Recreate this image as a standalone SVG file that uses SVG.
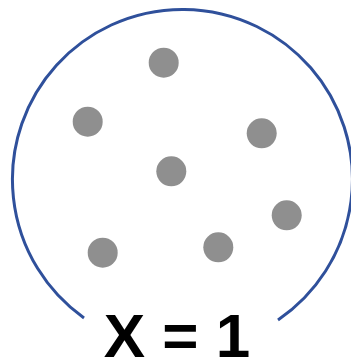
<svg xmlns="http://www.w3.org/2000/svg" width="351" height="361" viewBox="0 0 351 361">
<style>
.dot{fill:#8f8f8f}
.ring{fill:none;stroke:#2f509b;stroke-width:3}
.lbl{font-family:"Liberation Sans",Arial,sans-serif;font-weight:bold;font-size:62px;fill:#000}
</style>
<rect width="351" height="361" fill="#fff"/>
<g id="set">
<path class="ring" d="M84,318 A170,170 0 1 1 278,320"/>
</g>
<g id="dots">
<circle class="dot" cx="163.7" cy="62.7" r="15"/>
<circle class="dot" cx="87.7" cy="121.7" r="15"/>
<circle class="dot" cx="261.7" cy="133.3" r="15"/>
<circle class="dot" cx="171.3" cy="171.3" r="15"/>
<circle class="dot" cx="286.7" cy="215.3" r="15"/>
<circle class="dot" cx="102.7" cy="252.7" r="15"/>
<circle class="dot" cx="218.3" cy="247.3" r="15"/>
</g>
<g id="label">
<text class="lbl" x="177" y="357" text-anchor="middle">X = 1</text>
</g>
</svg>
